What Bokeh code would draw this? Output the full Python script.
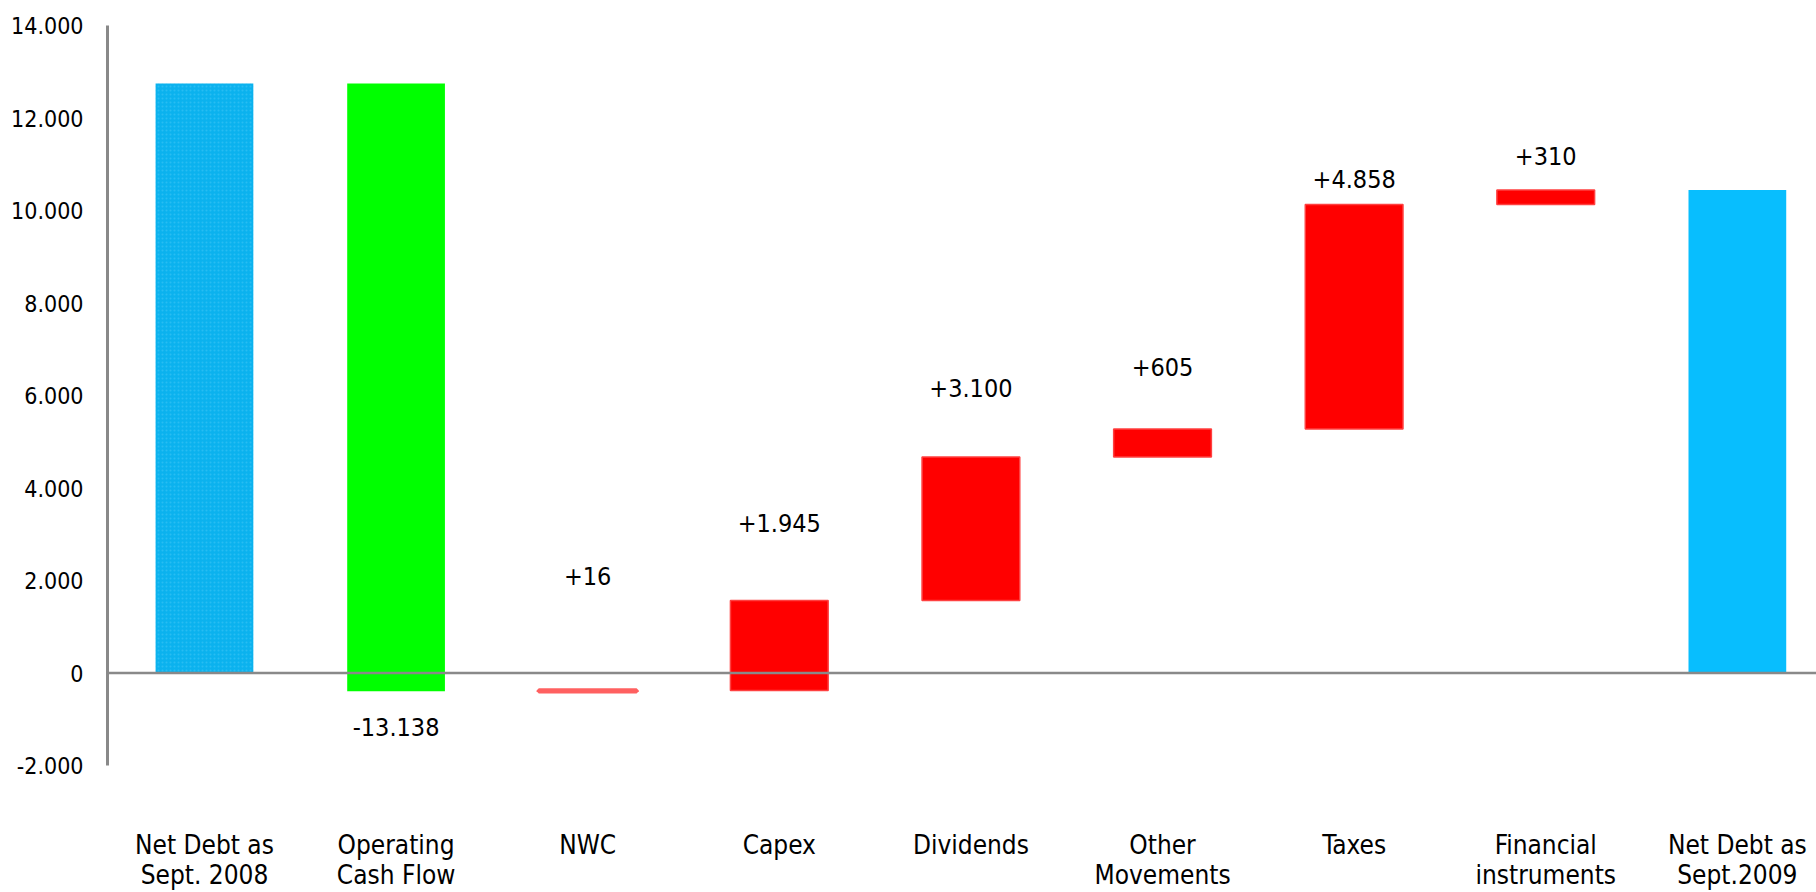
from bokeh.plotting import figure
from bokeh.models import ColumnDataSource, Range1d, FixedTicker, Span
from bokeh.core.properties import value
from bokeh.embed import file_html
from bokeh.resources import INLINE

# ---- data ----
categories = ["Net Debt as\nSept. 2008", "Operating\nCash Flow", "NWC", "Capex",
              "Dividends", "Other\nMovements", "Taxes", "Financial\ninstruments",
              "Net Debt as\nSept.2009"]
start_value = 12745
changes = [-13138, 16, 1945, 3100, 605, 4858, 310]
y_ticks = [-2000, 0, 2000, 4000, 6000, 8000, 10000, 12000, 14000]
y_tick_labels = ["-2.000", "0", "2.000", "4.000", "6.000", "8.000", "10.000", "12.000", "14.000"]
# label anchor heights (data units) as placed in the reference
label_y = [-1168, 2108, 3243, 6162, 6616, 10681, 11178]

FONT = "DejaVu Sans Condensed"

# ---- waterfall geometry from the data ----
end_value = start_value + sum(changes)
bottoms, tops, colors, lcolors, lws, hatches = [], [], [], [], [], []
bottoms.append(0); tops.append(start_value); colors.append("#0BB2EE")
lcolors.append("#0BB2EE"); lws.append(0); hatches.append("dot")
run = start_value
for c in changes:
    new = run + c
    bottoms.append(min(run, new)); tops.append(max(run, new))
    if c < 0:
        colors.append("#00FF00"); lcolors.append("#00FF00"); lws.append(0)
    else:
        colors.append("#FF0000")
        if abs(c) < 100:
            lcolors.append("#FF6060"); lws.append(4.5)
        else:
            lcolors.append("#FF4040"); lws.append(1.5)
    hatches.append(" ")
    run = new
bottoms.append(0); tops.append(end_value); colors.append("#08BEFE")
lcolors.append("#08BEFE"); lws.append(0); hatches.append(" ")

xs = list(range(len(categories)))
src = ColumnDataSource(dict(x=xs, bottom=bottoms, top=tops, color=colors,
                            lc=lcolors, lw=lws, hatch=hatches))

def fmt(v):
    s = f"{abs(v):,}".replace(",", ".")
    return ("+" if v > 0 else "-") + s

lab_src = ColumnDataSource(dict(x=xs[1:-1], y=label_y, text=[fmt(c) for c in changes]))

p = figure(width=1816, height=892,
           x_range=Range1d(-0.506, 8.413), y_range=Range1d(-2000, 14000),
           output_backend="svg", toolbar_location=None,
           min_border_left=107, min_border_right=0,
           min_border_top=25, min_border_bottom=127)
p.outline_line_color = None
p.xgrid.visible = False
p.ygrid.visible = False
p.background_fill_color = "white"
p.border_fill_color = "white"

p.vbar(x="x", width=0.51, bottom="bottom", top="top", source=src,
       fill_color="color", line_color="lc", line_width="lw",
       hatch_pattern="hatch", hatch_color="#35C2F4", hatch_scale=4,
       hatch_weight=1, hatch_alpha=0.7)

p.text(x="x", y="y", text="text", source=lab_src, text_align="center",
       text_baseline="middle", text_font=value(FONT), text_font_size="25px",
       text_color="#000000")

p.add_layout(Span(location=0, dimension="width", line_color="#898989", line_width=2.5))

# x axis: category labels only
xa = p.xaxis[0]
xa.ticker = FixedTicker(ticks=xs)
xa.major_label_overrides = {i: c for i, c in zip(xs, categories)}
xa.axis_line_color = None
xa.major_tick_line_color = None
xa.minor_tick_line_color = None
xa.major_tick_out = 0
xa.major_tick_in = 0
xa.minor_tick_out = 0
xa.minor_tick_in = 0
xa.major_label_standoff = 64
xa.major_label_text_font = FONT
xa.major_label_text_font_size = "26px"
xa.major_label_text_line_height = 1.0
xa.major_label_text_color = "#000000"

ya = p.yaxis[0]
ya.ticker = FixedTicker(ticks=y_ticks)
ya.major_label_overrides = {t: l for t, l in zip(y_ticks, y_tick_labels)}
ya.axis_line_color = "#898989"
ya.axis_line_width = 3
ya.major_tick_line_color = None
ya.minor_tick_line_color = None
ya.major_tick_out = 0
ya.major_tick_in = 0
ya.minor_tick_out = 0
ya.minor_tick_in = 0
ya.major_label_standoff = 24
ya.major_label_text_font = FONT
ya.major_label_text_font_size = "23px"
ya.major_label_text_color = "#000000"

open("out.html", "w").write(file_html(p, INLINE))
